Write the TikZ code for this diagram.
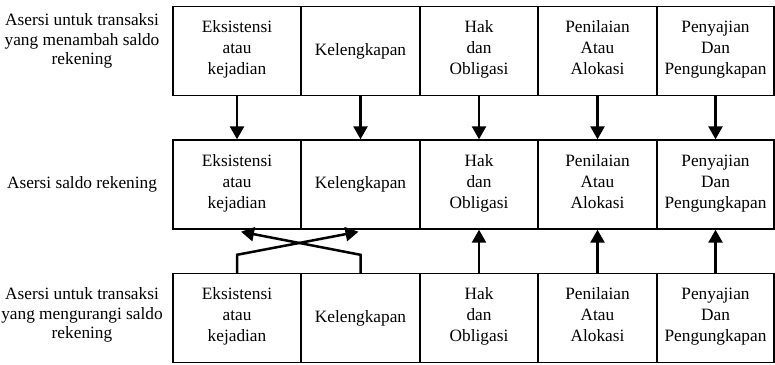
\documentclass[tikz,border=0pt]{standalone}
\usepackage{fontspec}
\setmainfont{Liberation Serif}
\usetikzlibrary{arrows.meta,calc}
\begin{document}
\begin{tikzpicture}[x=1pt,y=-1pt,
  txt/.style={font=\fontsize{17.3}{19.5}\selectfont},
  cell/.style={font=\fontsize{17.3}{21}\selectfont, draw, line width=1.4pt, minimum height=89pt,
    inner sep=0pt, align=center,
    execute at begin node=\strut, execute at end node=\strut},
  side/.style={txt, align=center, inner sep=0pt,
    execute at begin node=\strut, execute at end node=\strut},
  arr/.style={line width=2.5pt, -{Triangle[width=14pt,length=13pt]}}]
\useasboundingbox (0,0) rectangle (775,364);

% row labels
\node[side] (lt) at (82,42) {Asersi untuk transaksi\\yang menambah saldo\\rekening};
\node[side] (lm) at (82,185) {Asersi saldo rekening};
\node[side] (lb) at (82,316) {Asersi untuk transaksi\\yang mengurangi saldo\\rekening};

% three rows of assertion cells
\foreach \r/\yc in {t/51, m/184.5, b/318} {
  \node[cell, minimum width=128pt] (\r1) at (237,\yc)   {Eksistensi\\atau\\kejadian};
  \node[cell, minimum width=119pt] (\r2) at (360.5,\yc) {Kelengkapan};
  \node[cell, minimum width=118pt] (\r3) at (479,\yc)   {Hak\\dan\\Obligasi};
  \node[cell, minimum width=119pt] (\r4) at (597.5,\yc) {Penilaian\\Atau\\Alokasi};
  \node[cell, minimum width=117pt] (\r5) at (715.5,\yc) {Penyajian\\Dan\\Pengungkapan};
}

% increasing transactions feed the balance assertions
\foreach \i in {1,...,5} {
  \draw[arr] (t\i.south) -- (m\i.north);
}

% decreasing transactions: crossed links for the first two
\coordinate (k1) at ($(b1.north)+(0,-18)$);
\coordinate (k2) at ($(b2.north)+(0,-18)$);
\draw[arr, line join=miter] (b1.north) -- (k1) -- ($(m2.south)+(-2,2)$);
\draw[arr, line join=miter] (b2.north) -- (k2) -- ($(m1.south)+(4,2)$);

% and straight links for the rest
\foreach \i in {3,4,5} {
  \draw[arr] (b\i.north) -- (m\i.south);
}
\end{tikzpicture}
\end{document}
